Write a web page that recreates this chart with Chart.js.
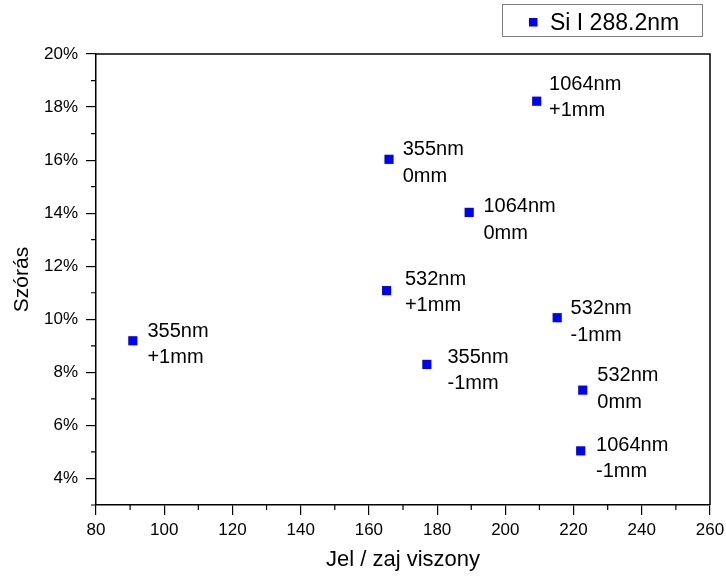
<!DOCTYPE html>
<html>
<head>
<meta charset="utf-8">
<script src="https://cdn.jsdelivr.net/npm/chart.js@4/dist/chart.umd.min.js"></script>
<style>
  html, body { margin: 0; padding: 0; background: #ffffff; }
  #wrap { width: 726px; height: 576px; }
</style>
</head>
<body>
<div id="wrap"><canvas id="c" width="726" height="576"></canvas></div>
<script>
// Signal-to-noise ratio (x) and relative standard deviation in % (y)
const signalToNoise = [90.8, 165.9, 209.2, 189.4, 165.2, 215.2, 177.0, 222.7, 222.1];
const deviation     = [9.19, 16.03, 18.22, 14.03, 11.08, 10.06, 8.30, 7.33, 5.04];
// Laser wavelength and focus offset for each measurement
const pointLabels = [
  ['355nm', '+1mm'],
  ['355nm', '0mm'],
  ['1064nm', '+1mm'],
  ['1064nm', '0mm'],
  ['532nm', '+1mm'],
  ['532nm', '-1mm'],
  ['355nm', '-1mm'],
  ['532nm', '0mm'],
  ['1064nm', '-1mm']
];
const seriesName = 'Si I 288.2nm';
const xTicks = [80, 100, 120, 140, 160, 180, 200, 220, 240, 260];
const yTicks = [4, 6, 8, 10, 12, 14, 16, 18, 20];

const FONT = "'Liberation Sans', Arial, sans-serif";
const BLUE = '#0000ff';

// minor ticks sit halfway between the major ones (and one step below the first y tick)
function midpoints(arr) {
  const out = [];
  for (let i = 0; i < arr.length - 1; i++) out.push((arr[i] + arr[i + 1]) / 2);
  return out;
}

const framePlugin = {
  id: 'frame',
  afterDraw(chart) {
    const { ctx, chartArea: a, scales } = chart;
    ctx.save();
    ctx.strokeStyle = '#000';
    ctx.lineWidth = 1.5;
    // top and right edges of the box
    ctx.beginPath();
    ctx.moveTo(a.left, a.top);
    ctx.lineTo(a.right, a.top);
    ctx.lineTo(a.right, a.bottom);
    ctx.stroke();
    // minor ticks
    ctx.lineWidth = 1.2;
    ctx.beginPath();
    midpoints(xTicks).forEach(v => {
      const px = scales.x.getPixelForValue(v);
      ctx.moveTo(px, a.bottom);
      ctx.lineTo(px, a.bottom + 5);
    });
    const yMinor = midpoints(yTicks);
    yMinor.unshift(yTicks[0] - (yTicks[1] - yTicks[0]) / 2);
    yMinor.forEach(v => {
      const py = scales.y.getPixelForValue(v);
      ctx.moveTo(a.left - 5, py);
      ctx.lineTo(a.left, py);
    });
    ctx.stroke();
    ctx.restore();
  }
};

// hand placement of each two-line annotation relative to its marker: [dx, baseline dy]
const labelPlacement = [
  [14.6, -4], [13.7, -4.3], [12.3, -11.3], [14.3, 0], [18.3, -5.7],
  [13.4, -3.4], [20.6, -1.6], [14.6, -9], [15.3, -0.3]
];

const pointLabelPlugin = {
  id: 'pointLabels',
  afterDatasetsDraw(chart) {
    const { ctx } = chart;
    const meta = chart.getDatasetMeta(0);
    ctx.save();
    ctx.fillStyle = '#000';
    ctx.font = '20px ' + FONT;
    ctx.textAlign = 'left';
    ctx.textBaseline = 'alphabetic';
    meta.data.forEach((pt, i) => {
      const [dx, dy] = labelPlacement[i] || [15, -4];
      pointLabels[i].forEach((t, j) => {
        ctx.fillText(t, pt.x + dx, pt.y + dy + j * 26.5);
      });
    });
    ctx.restore();
  }
};

const legendPlugin = {
  id: 'boxLegend',
  afterDraw(chart) {
    const { ctx } = chart;
    ctx.save();
    ctx.strokeStyle = '#808080';
    ctx.lineWidth = 1;
    ctx.strokeRect(502.5, 4.5, 200, 32);
    ctx.fillStyle = BLUE;
    ctx.fillRect(529, 18, 8.5, 8.5);
    ctx.fillStyle = '#000';
    ctx.font = '23px ' + FONT;
    ctx.textBaseline = 'alphabetic';
    ctx.fillText(chart.data.datasets[0].label, 550, 30);
    ctx.restore();
  }
};

new Chart(document.getElementById('c'), {
  type: 'scatter',
  data: {
    datasets: [{
      label: seriesName,
      data: signalToNoise.map((x, i) => ({ x, y: deviation[i] })),
      pointStyle: 'rect',
      pointRadius: 6.5,
      pointHoverRadius: 6.5,
      backgroundColor: BLUE,
      borderColor: BLUE,
      borderWidth: 0
    }]
  },
  options: {
    responsive: false,
    animation: false,
    devicePixelRatio: 1,
    layout: { padding: { top: 54, right: 16, left: 0, bottom: 0 } },
    plugins: {
      legend: { display: false },
      tooltip: { enabled: false }
    },
    scales: {
      x: {
        type: 'linear',
        min: 80,
        max: 260,
        afterBuildTicks: s => { s.ticks = xTicks.map(v => ({ value: v })); },
        afterFit: s => { s.height = 71; s.paddingLeft = 0; s.paddingRight = 0; },
        grid: { drawOnChartArea: false, drawTicks: true, tickLength: 10, color: '#000', lineWidth: 1.2 },
        border: { display: true, color: '#000', width: 1.5 },
        ticks: { color: '#000', font: { family: FONT, size: 17 }, padding: 5, maxRotation: 0, autoSkip: false },
        title: { display: true, text: 'Jel / zaj viszony', color: '#000', font: { family: FONT, size: 22 }, padding: { top: 0, bottom: 3 } }
      },
      y: {
        type: 'linear',
        min: 3,
        max: 20,
        afterBuildTicks: s => { s.ticks = yTicks.map(v => ({ value: v })); },
        afterFit: s => { s.width = 96; s.paddingTop = 0; s.paddingBottom = 0; },
        grid: { drawOnChartArea: false, drawTicks: true, tickLength: 10, color: '#000', lineWidth: 1.2 },
        border: { display: true, color: '#000', width: 1.5 },
        ticks: { color: '#000', font: { family: FONT, size: 17 }, padding: 8, callback: v => v + '%' },
        title: { display: true, text: 'Szórás', color: '#000', font: { family: FONT, size: 21 }, padding: { top: 10, bottom: 0 } }
      }
    }
  },
  plugins: [framePlugin, pointLabelPlugin, legendPlugin]
});
</script>
</body>
</html>
